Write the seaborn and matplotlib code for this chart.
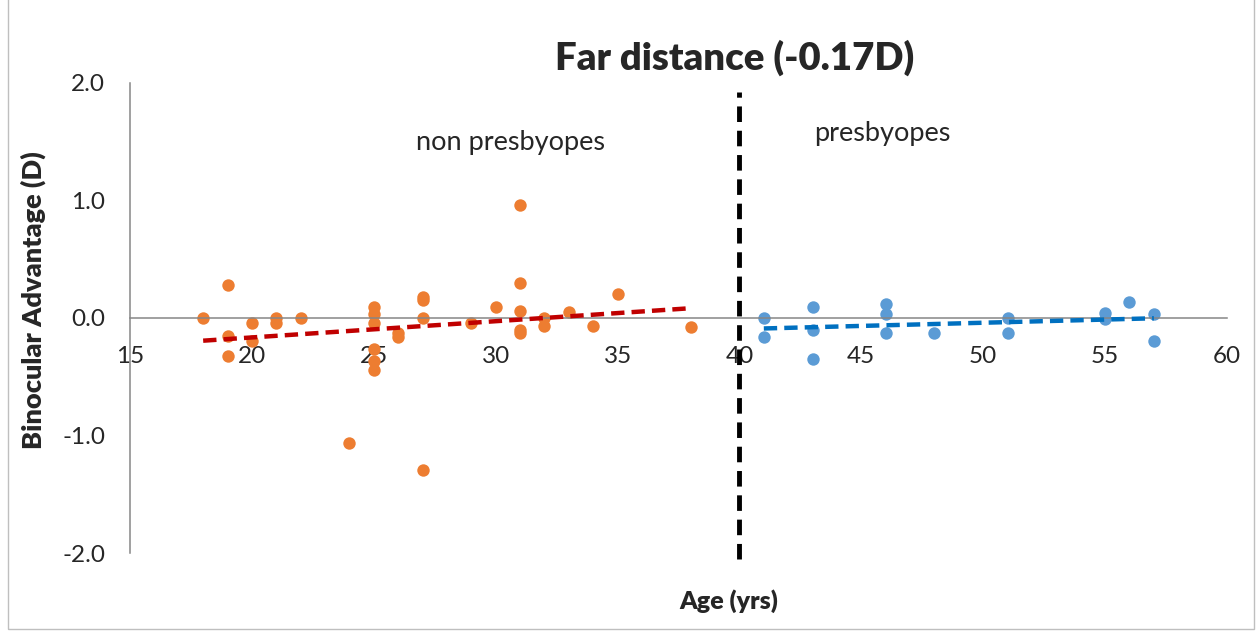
import matplotlib
matplotlib.use("Agg")
import matplotlib.pyplot as plt
import numpy as np
import pandas as pd
import seaborn as sns
from matplotlib.patches import Rectangle

# non presbyopes (age, binocular advantage)
young_age = [18, 19, 19, 19, 20, 20, 21, 21, 22, 24,
             25, 25, 25, 25, 25, 25, 26, 26, 27, 27, 27, 27,
             29, 30, 31, 31, 31, 31, 31, 32, 32, 33, 34, 35, 38]
young_adv = [0.0, 0.28, -0.15, -0.32, -0.04, -0.20, 0.0, -0.04, 0.0, -1.06,
             0.09, 0.03, -0.04, -0.26, -0.37, -0.44, -0.13, -0.16, 0.18, 0.15, 0.0, -1.29,
             -0.04, 0.09, 0.96, 0.30, 0.06, -0.10, -0.13, 0.0, -0.07, 0.05, -0.07, 0.20, -0.08]

# presbyopes
old_age = [41, 41, 43, 43, 43, 46, 46, 46, 48, 51, 51, 55, 55, 56, 57, 57]
old_adv = [0.0, -0.16, 0.09, -0.10, -0.35, 0.12, 0.03, -0.13, -0.13, 0.0, -0.13,
           0.04, -0.01, 0.14, 0.03, -0.20]

boundary_age = 40
x_ticks = [15, 20, 25, 30, 35, 40, 45, 50, 55, 60]
y_ticks = [-2.0, -1.0, 0.0, 1.0, 2.0]

young = pd.DataFrame({"age": young_age, "adv": young_adv})
old = pd.DataFrame({"age": old_age, "adv": old_adv})

sns.set_style("white")
plt.rcParams["font.family"] = ["Lato", "DejaVu Sans"]

fig = plt.figure(figsize=(12.6, 6.31), dpi=100)
ax = fig.add_axes([0.1032, 0.1236, 0.8706, 0.7449])

orange = "#ED7D31"
blue = "#5B9BD5"

sns.regplot(data=young, x="age", y="adv", scatter=False, ci=None, ax=ax,
            line_kws=dict(color="#C00000", lw=3.2, ls=(0, (3, 1.6)), zorder=3))
sns.regplot(data=old, x="age", y="adv", scatter=False, ci=None, ax=ax,
            line_kws=dict(color="#0070C0", lw=3.2, ls=(0, (3, 1.6)), zorder=3))
sns.scatterplot(data=young, x="age", y="adv", color=orange, s=80, linewidth=0, ax=ax, zorder=2)
sns.scatterplot(data=old, x="age", y="adv", color=blue, s=80, linewidth=0, ax=ax, zorder=2)

ax.set_xlim(15, 60)
ax.set_ylim(-2, 2)
ax.set_xticks(x_ticks)
ax.set_yticks(y_ticks)
ax.set_yticklabels([f"{v:.1f}" for v in y_ticks])

for s in ["top", "right"]:
    ax.spines[s].set_visible(False)
ax.spines["bottom"].set_position(("data", 0))
for s in ["left", "bottom"]:
    ax.spines[s].set_color("#868686")
    ax.spines[s].set_linewidth(1.1)

ax.tick_params(axis="x", direction="out", length=6, color="#868686", labelsize=17.5, pad=14)
ax.tick_params(axis="y", length=0, labelsize=17.5, pad=18)

# dividing line at age 40
ax.plot([boundary_age, boundary_age], [-2.05, 1.92], color="black", lw=3.5,
        ls=(0, (3.2, 1.8)), clip_on=False, zorder=4)

ax.text(30.6, 1.49, "non presbyopes", fontsize=19.5, ha="center", va="center")
ax.text(45.85, 1.57, "presbyopes", fontsize=19.5, ha="center", va="center")

ax.set_title("Far distance (-0.17D)", fontsize=27.5, fontweight="heavy", x=0.551, y=1.035, va="center")
ax.set_xlabel("Age (yrs)", fontsize=18, fontweight="heavy")
ax.set_ylabel("Binocular Advantage (D)", fontsize=19.5, fontweight="heavy")
ax.xaxis.label.set_va("center")
ax.yaxis.label.set_va("center")
ax.xaxis.set_label_coords(0.546, -0.102)
ax.yaxis.set_label_coords(-0.088, 0.538)

fig.patches.append(Rectangle((0.006, 0.003), 0.989, 1.2, transform=fig.transFigure,
                             fill=False, edgecolor="#BFBFBF", lw=1))

fig.savefig("out.png", dpi=100)
